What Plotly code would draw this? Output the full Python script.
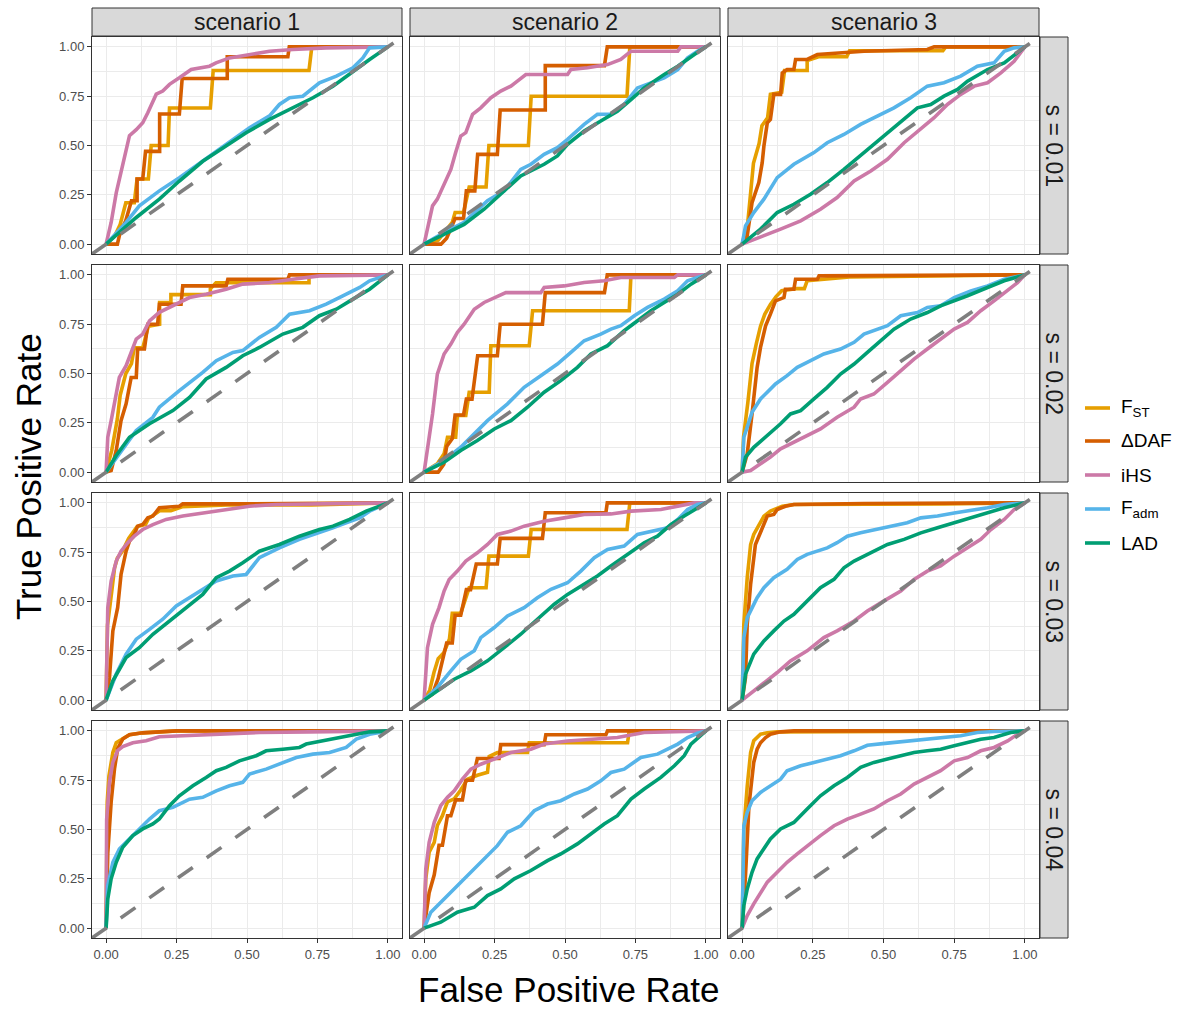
import plotly.graph_objects as go

# ---------------- data ----------------
scenarios = ["scenario 1", "scenario 2", "scenario 3"]
s_values = ["s = 0.01", "s = 0.02", "s = 0.03", "s = 0.04"]
methods = ["FST", "DAF", "iHS", "Fadm", "LAD"]
method_labels = ["F<sub>ST</sub>", "ΔDAF", "iHS", "F<sub>adm</sub>", "LAD"]
tick_vals = [0, 0.25, 0.5, 0.75, 1.0]
tick_text = ["0.00", "0.25", "0.50", "0.75", "1.00"]

# s = 0.01, scenario 1
s01_sc1_fst_x = [0, 0.03, 0.05, 0.07, 0.1, 0.11, 0.15, 0.16, 0.22, 0.225, 0.37, 0.38, 0.72, 0.73, 1]
s01_sc1_fst_y = [0, 0.04, 0.1, 0.21, 0.21, 0.33, 0.33, 0.5, 0.5, 0.69, 0.69, 0.88, 0.88, 1, 1]
s01_sc1_daf_x = [0, 0.04, 0.05, 0.07, 0.09, 0.11, 0.11, 0.13, 0.14, 0.19, 0.19, 0.26, 0.27, 0.43, 0.43, 0.645, 0.65, 1]
s01_sc1_daf_y = [0, 0, 0.06, 0.12, 0.22, 0.22, 0.33, 0.33, 0.47, 0.47, 0.66, 0.66, 0.84, 0.84, 0.95, 0.95, 1, 1]
s01_sc1_ihs_x = [0, 0.018, 0.036, 0.059, 0.083, 0.107, 0.13, 0.148, 0.178, 0.201, 0.225, 0.26, 0.302, 0.367, 0.39, 0.438, 0.509, 0.58, 0.663, 0.781, 1]
s01_sc1_ihs_y = [0, 0.11, 0.26, 0.41, 0.55, 0.58, 0.615, 0.666, 0.76, 0.776, 0.81, 0.843, 0.885, 0.902, 0.919, 0.944, 0.961, 0.978, 0.987, 0.995, 1]
s01_sc1_fadm_x = [0, 0.071, 0.118, 0.189, 0.26, 0.343, 0.426, 0.509, 0.58, 0.615, 0.651, 0.698, 0.757, 0.817, 0.876, 0.911, 0.935, 1]
s01_sc1_fadm_y = [0, 0.11, 0.194, 0.27, 0.337, 0.42, 0.506, 0.59, 0.65, 0.708, 0.742, 0.75, 0.818, 0.852, 0.894, 0.944, 0.995, 1]
s01_sc1_lad_x = [0, 0.047, 0.107, 0.189, 0.26, 0.343, 0.426, 0.497, 0.58, 0.663, 0.734, 0.805, 0.876, 0.935, 1]
s01_sc1_lad_y = [0, 0.059, 0.135, 0.228, 0.32, 0.42, 0.497, 0.565, 0.632, 0.691, 0.742, 0.8, 0.877, 0.936, 1]

# s = 0.01, scenario 2
s01_sc2_fst_x = [0, 0.05, 0.1, 0.11, 0.14, 0.16, 0.22, 0.23, 0.37, 0.38, 0.72, 0.73, 1]
s01_sc2_fst_y = [0, 0.02, 0.11, 0.16, 0.16, 0.29, 0.29, 0.5, 0.5, 0.75, 0.75, 1, 1]
s01_sc2_daf_x = [0, 0.06, 0.08, 0.11, 0.14, 0.15, 0.18, 0.19, 0.26, 0.27, 0.43, 0.43, 0.64, 0.65, 1]
s01_sc2_daf_y = [0, 0, 0.03, 0.13, 0.13, 0.27, 0.27, 0.455, 0.455, 0.68, 0.68, 0.905, 0.905, 1, 1]
s01_sc2_ihs_x = [0, 0.018, 0.03, 0.047, 0.071, 0.095, 0.112, 0.13, 0.148, 0.172, 0.201, 0.237, 0.272, 0.308, 0.331, 0.361, 0.509, 0.521, 0.58, 0.651, 0.698, 0.734, 0.9, 0.911, 1]
s01_sc2_ihs_y = [0, 0.11, 0.194, 0.228, 0.303, 0.379, 0.464, 0.548, 0.565, 0.658, 0.691, 0.742, 0.776, 0.801, 0.826, 0.86, 0.86, 0.885, 0.894, 0.91, 0.936, 0.978, 0.978, 1, 1]
s01_sc2_fadm_x = [0, 0.071, 0.142, 0.225, 0.284, 0.343, 0.379, 0.426, 0.473, 0.509, 0.568, 0.615, 0.663, 0.71, 0.757, 0.805, 0.852, 0.9, 0.935, 0.97, 1]
s01_sc2_fadm_y = [0, 0.059, 0.11, 0.22, 0.27, 0.379, 0.405, 0.455, 0.489, 0.531, 0.607, 0.658, 0.66, 0.708, 0.792, 0.818, 0.843, 0.885, 0.944, 0.978, 1]
s01_sc2_lad_x = [0, 0.071, 0.142, 0.213, 0.284, 0.343, 0.426, 0.473, 0.509, 0.568, 0.627, 0.686, 0.734, 0.781, 0.852, 0.9, 0.959, 1]
s01_sc2_lad_y = [0, 0.05, 0.1, 0.177, 0.27, 0.346, 0.405, 0.447, 0.506, 0.573, 0.624, 0.674, 0.733, 0.792, 0.86, 0.902, 0.961, 1]

# s = 0.01, scenario 3
s01_sc3_fst_x = [0, 0.02, 0.03, 0.04, 0.06, 0.07, 0.09, 0.1, 0.14, 0.15, 0.23, 0.23, 0.27, 0.37, 0.38, 0.71, 0.72, 1]
s01_sc3_fst_y = [0, 0.11, 0.26, 0.41, 0.51, 0.6, 0.64, 0.76, 0.77, 0.88, 0.88, 0.93, 0.95, 0.95, 0.98, 0.98, 1, 1]
s01_sc3_daf_x = [0, 0.018, 0.035, 0.059, 0.071, 0.077, 0.089, 0.1, 0.112, 0.136, 0.142, 0.159, 0.183, 0.189, 0.23, 0.266, 0.431, 0.655, 0.679, 1]
s01_sc3_daf_y = [0, 0.042, 0.21, 0.312, 0.413, 0.497, 0.615, 0.632, 0.759, 0.759, 0.868, 0.885, 0.885, 0.936, 0.936, 0.961, 0.978, 0.987, 1, 1]
s01_sc3_ihs_x = [0, 0.065, 0.136, 0.207, 0.277, 0.336, 0.396, 0.455, 0.514, 0.573, 0.632, 0.679, 0.726, 0.773, 0.821, 0.868, 0.915, 0.962, 1]
s01_sc3_ihs_y = [0, 0.034, 0.076, 0.118, 0.177, 0.236, 0.32, 0.371, 0.43, 0.514, 0.582, 0.641, 0.708, 0.759, 0.801, 0.818, 0.868, 0.927, 1]
s01_sc3_fadm_x = [0, 0.012, 0.041, 0.077, 0.124, 0.183, 0.254, 0.301, 0.36, 0.419, 0.478, 0.537, 0.596, 0.655, 0.714, 0.773, 0.832, 0.891, 0.927, 0.962, 1]
s01_sc3_fadm_y = [0, 0.093, 0.16, 0.228, 0.337, 0.405, 0.464, 0.514, 0.556, 0.607, 0.649, 0.691, 0.742, 0.801, 0.818, 0.852, 0.902, 0.919, 0.978, 0.995, 1]
s01_sc3_lad_x = [0, 0.065, 0.124, 0.183, 0.242, 0.301, 0.36, 0.396, 0.443, 0.502, 0.561, 0.62, 0.667, 0.714, 0.762, 0.797, 0.868, 0.927, 1]
s01_sc3_lad_y = [0, 0.076, 0.16, 0.202, 0.253, 0.312, 0.379, 0.422, 0.481, 0.548, 0.616, 0.691, 0.708, 0.75, 0.784, 0.826, 0.885, 0.919, 1]

# s = 0.02, scenario 1
s02_sc1_fst_x = [0, 0.02, 0.04, 0.05, 0.07, 0.09, 0.1, 0.13, 0.15, 0.19, 0.19, 0.23, 0.23, 0.37, 0.37, 0.39, 0.72, 0.72, 1]
s02_sc1_fst_y = [0, 0.11, 0.27, 0.39, 0.5, 0.55, 0.63, 0.63, 0.74, 0.75, 0.86, 0.86, 0.9, 0.9, 0.93, 0.96, 0.96, 1, 1]
s02_sc1_daf_x = [0, 0.018, 0.036, 0.053, 0.071, 0.089, 0.107, 0.112, 0.136, 0.148, 0.183, 0.189, 0.266, 0.272, 0.426, 0.432, 0.645, 0.651, 1]
s02_sc1_daf_y = [0, 0.008, 0.11, 0.261, 0.346, 0.48, 0.48, 0.624, 0.624, 0.75, 0.75, 0.851, 0.851, 0.944, 0.944, 0.978, 0.978, 1, 1]
s02_sc1_ihs_x = [0, 0.006, 0.018, 0.036, 0.047, 0.071, 0.107, 0.13, 0.154, 0.189, 0.237, 0.296, 0.355, 0.426, 0.485, 0.58, 0.663, 0.757, 1]
s02_sc1_ihs_y = [0, 0.177, 0.261, 0.396, 0.48, 0.54, 0.674, 0.7, 0.767, 0.81, 0.843, 0.885, 0.902, 0.927, 0.953, 0.961, 0.978, 0.995, 1]
s02_sc1_fadm_x = [0, 0.047, 0.107, 0.166, 0.189, 0.26, 0.308, 0.343, 0.391, 0.45, 0.485, 0.544, 0.604, 0.651, 0.722, 0.781, 0.84, 0.9, 0.935, 0.97, 1]
s02_sc1_fadm_y = [0, 0.093, 0.211, 0.278, 0.329, 0.413, 0.464, 0.506, 0.565, 0.607, 0.616, 0.683, 0.734, 0.801, 0.818, 0.852, 0.894, 0.936, 0.97, 0.987, 1]
s02_sc1_lad_x = [0, 0.036, 0.083, 0.154, 0.237, 0.296, 0.355, 0.426, 0.485, 0.544, 0.627, 0.698, 0.757, 0.817, 0.876, 0.935, 1]
s02_sc1_lad_y = [0, 0.084, 0.177, 0.245, 0.312, 0.379, 0.472, 0.531, 0.59, 0.632, 0.7, 0.734, 0.793, 0.826, 0.877, 0.927, 1]

# s = 0.02, scenario 2
s02_sc2_fst_x = [0, 0.047, 0.071, 0.083, 0.112, 0.118, 0.148, 0.16, 0.231, 0.237, 0.373, 0.385, 0.728, 0.734, 1]
s02_sc2_fst_y = [0, 0.042, 0.093, 0.177, 0.177, 0.287, 0.287, 0.405, 0.405, 0.641, 0.641, 0.818, 0.818, 1, 1]
s02_sc2_daf_x = [0, 0.05, 0.07, 0.08, 0.1, 0.11, 0.14, 0.15, 0.17, 0.19, 0.26, 0.27, 0.42, 0.43, 0.64, 0.65, 1]
s02_sc2_daf_y = [0, 0, 0.04, 0.13, 0.17, 0.29, 0.29, 0.37, 0.37, 0.59, 0.59, 0.75, 0.75, 0.91, 0.91, 1, 1]
s02_sc2_ihs_x = [0, 0.018, 0.03, 0.047, 0.071, 0.095, 0.118, 0.142, 0.178, 0.213, 0.249, 0.29, 0.414, 0.426, 0.497, 0.568, 0.639, 0.698, 0.888, 0.9, 1]
s02_sc2_ihs_y = [0, 0.177, 0.295, 0.497, 0.599, 0.649, 0.708, 0.75, 0.826, 0.86, 0.885, 0.91, 0.91, 0.936, 0.944, 0.961, 0.97, 0.987, 0.987, 1, 1]
s02_sc2_fadm_x = [0, 0.071, 0.13, 0.178, 0.225, 0.296, 0.355, 0.414, 0.473, 0.521, 0.568, 0.627, 0.663, 0.698, 0.746, 0.793, 0.852, 0.9, 0.935, 0.97, 1]
s02_sc2_fadm_y = [0, 0.059, 0.126, 0.194, 0.261, 0.346, 0.43, 0.489, 0.548, 0.607, 0.666, 0.7, 0.725, 0.742, 0.793, 0.835, 0.877, 0.919, 0.97, 0.987, 1]
s02_sc2_lad_x = [0, 0.071, 0.13, 0.189, 0.249, 0.308, 0.367, 0.426, 0.485, 0.544, 0.592, 0.651, 0.71, 0.757, 0.805, 0.852, 0.9, 0.947, 1]
s02_sc2_lad_y = [0, 0.05, 0.11, 0.16, 0.219, 0.261, 0.329, 0.405, 0.464, 0.531, 0.599, 0.641, 0.717, 0.767, 0.818, 0.86, 0.902, 0.953, 1]

# s = 0.02, scenario 3
s02_sc3_fst_x = [0, 0.005, 0.02, 0.035, 0.05, 0.065, 0.08, 0.1, 0.12, 0.14, 0.19, 0.22, 0.23, 0.3, 0.38, 1]
s02_sc3_fst_y = [0, 0.18, 0.35, 0.55, 0.65, 0.74, 0.8, 0.85, 0.89, 0.92, 0.93, 0.93, 0.97, 0.98, 0.99, 1]
s02_sc3_daf_x = [0, 0.018, 0.035, 0.053, 0.065, 0.083, 0.1, 0.118, 0.148, 0.153, 0.183, 0.189, 0.266, 0.272, 1]
s02_sc3_daf_y = [0, 0.093, 0.295, 0.531, 0.632, 0.742, 0.801, 0.868, 0.885, 0.927, 0.927, 0.978, 0.978, 0.995, 1]
s02_sc3_ihs_x = [0, 0.03, 0.065, 0.1, 0.136, 0.183, 0.218, 0.277, 0.336, 0.396, 0.419, 0.466, 0.514, 0.561, 0.608, 0.655, 0.702, 0.75, 0.797, 0.844, 0.891, 0.939, 0.974, 1]
s02_sc3_ihs_y = [0, 0.008, 0.042, 0.076, 0.118, 0.152, 0.177, 0.219, 0.278, 0.329, 0.371, 0.396, 0.455, 0.514, 0.573, 0.624, 0.674, 0.725, 0.759, 0.818, 0.868, 0.919, 0.961, 1]
s02_sc3_fadm_x = [0, 0.006, 0.018, 0.035, 0.065, 0.089, 0.118, 0.159, 0.195, 0.23, 0.289, 0.348, 0.396, 0.431, 0.478, 0.514, 0.561, 0.62, 0.655, 0.702, 0.75, 0.809, 0.868, 0.927, 1]
s02_sc3_fadm_y = [0, 0.177, 0.228, 0.304, 0.371, 0.405, 0.447, 0.489, 0.531, 0.556, 0.599, 0.624, 0.658, 0.7, 0.725, 0.742, 0.793, 0.809, 0.835, 0.843, 0.885, 0.919, 0.944, 0.978, 1]
s02_sc3_lad_x = [0, 0.012, 0.041, 0.089, 0.136, 0.171, 0.207, 0.254, 0.301, 0.348, 0.396, 0.443, 0.49, 0.537, 0.596, 0.655, 0.702, 0.75, 0.797, 0.868, 0.927, 1]
s02_sc3_lad_y = [0, 0.076, 0.126, 0.185, 0.245, 0.295, 0.312, 0.371, 0.43, 0.497, 0.548, 0.607, 0.666, 0.725, 0.776, 0.809, 0.843, 0.868, 0.894, 0.936, 0.97, 1]

# s = 0.03, scenario 1
s03_sc1_fst_x = [0, 0.005, 0.02, 0.03, 0.04, 0.06, 0.07, 0.08, 0.11, 0.14, 0.15, 0.19, 0.23, 0.27, 0.43, 0.73, 1]
s03_sc1_fst_y = [0, 0.38, 0.55, 0.67, 0.72, 0.76, 0.79, 0.82, 0.88, 0.89, 0.92, 0.96, 0.96, 0.98, 0.99, 0.99, 1]
s03_sc1_daf_x = [0, 0.012, 0.024, 0.041, 0.053, 0.071, 0.083, 0.1, 0.112, 0.13, 0.148, 0.166, 0.189, 0.26, 0.272, 0.438, 1]
s03_sc1_daf_y = [0, 0.115, 0.351, 0.469, 0.637, 0.755, 0.806, 0.84, 0.882, 0.89, 0.924, 0.933, 0.975, 0.983, 0.995, 0.995, 1]
s03_sc1_ihs_x = [0, 0.006, 0.018, 0.036, 0.053, 0.077, 0.1, 0.13, 0.166, 0.213, 0.272, 0.343, 0.426, 0.509, 0.604, 0.722, 1]
s03_sc1_ihs_y = [0, 0.469, 0.604, 0.705, 0.755, 0.798, 0.831, 0.865, 0.89, 0.916, 0.933, 0.949, 0.966, 0.983, 0.992, 0.995, 1]
s03_sc1_fadm_x = [0, 0.036, 0.071, 0.107, 0.154, 0.201, 0.249, 0.308, 0.355, 0.391, 0.45, 0.497, 0.544, 0.615, 0.686, 0.757, 0.805, 0.852, 0.9, 0.935, 0.97, 1]
s03_sc1_fadm_y = [0, 0.132, 0.233, 0.309, 0.359, 0.41, 0.477, 0.528, 0.57, 0.604, 0.629, 0.637, 0.722, 0.772, 0.815, 0.848, 0.874, 0.899, 0.924, 0.958, 0.983, 1]
s03_sc1_lad_x = [0, 0.024, 0.071, 0.118, 0.166, 0.225, 0.284, 0.343, 0.391, 0.438, 0.485, 0.544, 0.615, 0.686, 0.757, 0.805, 0.864, 0.923, 0.97, 1]
s03_sc1_lad_y = [0, 0.098, 0.216, 0.266, 0.334, 0.401, 0.469, 0.536, 0.621, 0.654, 0.696, 0.755, 0.789, 0.831, 0.865, 0.882, 0.916, 0.958, 0.983, 1]

# s = 0.03, scenario 2
s03_sc2_fst_x = [0, 0.02, 0.035, 0.05, 0.07, 0.09, 0.1, 0.13, 0.16, 0.22, 0.23, 0.37, 0.38, 0.72, 0.73, 1]
s03_sc2_fst_y = [0, 0.05, 0.14, 0.21, 0.24, 0.31, 0.44, 0.44, 0.57, 0.57, 0.73, 0.73, 0.865, 0.865, 1, 1]
s03_sc2_daf_x = [0, 0.03, 0.05, 0.07, 0.08, 0.1, 0.11, 0.13, 0.15, 0.165, 0.185, 0.26, 0.27, 0.42, 0.43, 0.645, 0.65, 1]
s03_sc2_daf_y = [0, 0.03, 0.11, 0.22, 0.29, 0.29, 0.43, 0.43, 0.56, 0.56, 0.69, 0.69, 0.82, 0.82, 0.95, 0.95, 1, 1]
s03_sc2_ihs_x = [0, 0.012, 0.03, 0.053, 0.071, 0.089, 0.118, 0.148, 0.189, 0.225, 0.26, 0.308, 0.355, 0.426, 0.497, 0.568, 0.663, 0.734, 0.84, 0.9, 0.959, 1]
s03_sc2_ihs_y = [0, 0.266, 0.384, 0.469, 0.553, 0.612, 0.654, 0.705, 0.747, 0.789, 0.84, 0.857, 0.882, 0.907, 0.924, 0.941, 0.944, 0.958, 0.966, 0.983, 1, 1]
s03_sc2_fadm_x = [0, 0.047, 0.095, 0.13, 0.178, 0.201, 0.249, 0.296, 0.355, 0.402, 0.45, 0.509, 0.556, 0.604, 0.651, 0.71, 0.757, 0.817, 0.864, 0.9, 0.935, 0.97, 1]
s03_sc2_fadm_y = [0, 0.064, 0.148, 0.207, 0.25, 0.317, 0.368, 0.427, 0.469, 0.519, 0.562, 0.595, 0.654, 0.722, 0.764, 0.781, 0.84, 0.857, 0.874, 0.916, 0.966, 0.992, 1]
s03_sc2_lad_x = [0, 0.047, 0.107, 0.166, 0.225, 0.284, 0.343, 0.402, 0.462, 0.509, 0.568, 0.615, 0.663, 0.722, 0.781, 0.828, 0.876, 0.923, 0.97, 1]
s03_sc2_lad_y = [0, 0.047, 0.106, 0.148, 0.199, 0.266, 0.334, 0.41, 0.486, 0.536, 0.587, 0.629, 0.68, 0.739, 0.798, 0.831, 0.89, 0.933, 0.975, 1]

# s = 0.03, scenario 3
s03_sc3_fst_x = [0, 0.006, 0.018, 0.03, 0.041, 0.059, 0.077, 0.1, 0.142, 0.183, 0.23, 0.714, 1]
s03_sc3_fst_y = [0, 0.385, 0.621, 0.789, 0.84, 0.89, 0.933, 0.958, 0.983, 0.992, 0.992, 0.995, 1]
s03_sc3_daf_x = [0, 0.012, 0.018, 0.03, 0.047, 0.065, 0.077, 0.089, 0.112, 0.124, 0.153, 0.183, 0.431, 1]
s03_sc3_daf_y = [0, 0.115, 0.385, 0.587, 0.789, 0.848, 0.89, 0.933, 0.941, 0.966, 0.983, 0.992, 0.997, 1]
s03_sc3_ihs_x = [0, 0.041, 0.089, 0.124, 0.171, 0.23, 0.289, 0.336, 0.396, 0.443, 0.502, 0.561, 0.608, 0.655, 0.702, 0.75, 0.797, 0.844, 0.88, 0.927, 0.962, 1]
s03_sc3_ihs_y = [0, 0.047, 0.098, 0.14, 0.199, 0.25, 0.317, 0.351, 0.401, 0.452, 0.503, 0.553, 0.612, 0.654, 0.68, 0.73, 0.772, 0.815, 0.865, 0.916, 0.966, 1]
s03_sc3_fadm_x = [0, 0.006, 0.018, 0.035, 0.053, 0.077, 0.112, 0.159, 0.195, 0.23, 0.266, 0.301, 0.336, 0.372, 0.419, 0.478, 0.537, 0.584, 0.632, 0.691, 0.75, 0.797, 0.868, 0.927, 1]
s03_sc3_fadm_y = [0, 0.317, 0.418, 0.469, 0.519, 0.57, 0.621, 0.663, 0.713, 0.739, 0.755, 0.772, 0.798, 0.831, 0.848, 0.865, 0.882, 0.899, 0.924, 0.933, 0.949, 0.958, 0.975, 0.992, 1]
s03_sc3_lad_x = [0, 0.012, 0.041, 0.077, 0.112, 0.148, 0.183, 0.23, 0.277, 0.325, 0.36, 0.396, 0.455, 0.514, 0.573, 0.632, 0.691, 0.75, 0.809, 0.868, 0.927, 1]
s03_sc3_lad_y = [0, 0.132, 0.233, 0.3, 0.351, 0.401, 0.435, 0.503, 0.57, 0.612, 0.671, 0.705, 0.747, 0.789, 0.815, 0.848, 0.874, 0.899, 0.924, 0.949, 0.975, 1]

# s = 0.04, scenario 1
s04_sc1_fst_x = [0, 0.004, 0.01, 0.024, 0.036, 0.06, 0.083, 0.13, 0.25, 1]
s04_sc1_fst_y = [0, 0.64, 0.77, 0.89, 0.94, 0.96, 0.98, 0.99, 1, 1]
s04_sc1_daf_x = [0, 0.006, 0.018, 0.03, 0.041, 0.06, 0.083, 0.13, 0.25, 1]
s04_sc1_daf_y = [0, 0.38, 0.64, 0.81, 0.91, 0.96, 0.98, 0.99, 1, 1]
s04_sc1_ihs_x = [0, 0.002, 0.012, 0.024, 0.041, 0.059, 0.095, 0.142, 0.189, 0.26, 0.367, 0.544, 0.722, 1]
s04_sc1_ihs_y = [0, 0.55, 0.74, 0.84, 0.9, 0.92, 0.94, 0.95, 0.97, 0.975, 0.983, 0.992, 0.995, 1]
s04_sc1_fadm_x = [0, 0.006, 0.024, 0.047, 0.071, 0.107, 0.154, 0.189, 0.237, 0.296, 0.343, 0.391, 0.438, 0.485, 0.509, 0.568, 0.627, 0.675, 0.734, 0.793, 0.852, 0.888, 0.935, 1]
s04_sc1_fadm_y = [0, 0.216, 0.334, 0.401, 0.435, 0.486, 0.553, 0.595, 0.612, 0.654, 0.663, 0.696, 0.722, 0.739, 0.781, 0.806, 0.84, 0.865, 0.882, 0.89, 0.916, 0.958, 0.983, 1]
s04_sc1_lad_x = [0, 0.006, 0.018, 0.036, 0.059, 0.095, 0.13, 0.166, 0.189, 0.225, 0.26, 0.308, 0.355, 0.391, 0.426, 0.473, 0.533, 0.568, 0.627, 0.686, 0.71, 0.769, 0.828, 0.888, 0.935, 1]
s04_sc1_lad_y = [0, 0.148, 0.25, 0.334, 0.41, 0.469, 0.503, 0.528, 0.553, 0.621, 0.671, 0.722, 0.764, 0.798, 0.815, 0.848, 0.874, 0.899, 0.907, 0.916, 0.933, 0.949, 0.966, 0.983, 0.995, 1]

# s = 0.04, scenario 2
s04_sc2_fst_x = [0, 0.006, 0.018, 0.036, 0.047, 0.065, 0.083, 0.107, 0.13, 0.154, 0.189, 0.225, 0.231, 0.26, 0.367, 0.373, 0.722, 0.728, 1]
s04_sc2_fst_y = [0, 0.25, 0.385, 0.435, 0.52, 0.57, 0.64, 0.655, 0.7, 0.755, 0.775, 0.79, 0.87, 0.89, 0.89, 0.94, 0.94, 1, 1]
s04_sc2_daf_x = [0, 0.018, 0.036, 0.053, 0.065, 0.083, 0.095, 0.112, 0.136, 0.148, 0.172, 0.189, 0.266, 0.272, 0.426, 0.432, 0.645, 0.651, 1]
s04_sc2_daf_y = [0, 0.18, 0.27, 0.42, 0.42, 0.57, 0.57, 0.65, 0.65, 0.75, 0.75, 0.86, 0.86, 0.93, 0.93, 0.98, 0.98, 1, 1]
s04_sc2_ihs_x = [0, 0.006, 0.018, 0.036, 0.059, 0.083, 0.107, 0.136, 0.166, 0.201, 0.249, 0.308, 0.379, 0.426, 0.509, 0.592, 0.686, 0.781, 0.9, 1]
s04_sc2_ihs_y = [0, 0.3, 0.435, 0.536, 0.621, 0.663, 0.696, 0.755, 0.806, 0.831, 0.857, 0.89, 0.907, 0.933, 0.949, 0.958, 0.966, 0.992, 0.997, 1]
s04_sc2_fadm_x = [0, 0.024, 0.071, 0.118, 0.166, 0.213, 0.26, 0.296, 0.343, 0.391, 0.438, 0.485, 0.533, 0.58, 0.627, 0.663, 0.71, 0.769, 0.828, 0.864, 0.9, 0.935, 0.97, 1]
s04_sc2_fadm_y = [0, 0.081, 0.148, 0.216, 0.283, 0.351, 0.418, 0.486, 0.519, 0.595, 0.629, 0.646, 0.68, 0.705, 0.747, 0.789, 0.806, 0.865, 0.882, 0.907, 0.933, 0.966, 0.988, 1]
s04_sc2_lad_x = [0, 0.059, 0.118, 0.178, 0.225, 0.272, 0.32, 0.379, 0.438, 0.485, 0.544, 0.592, 0.639, 0.686, 0.734, 0.781, 0.84, 0.888, 0.923, 0.947, 0.982, 1]
s04_sc2_lad_y = [0, 0.03, 0.081, 0.106, 0.165, 0.199, 0.25, 0.292, 0.342, 0.376, 0.427, 0.477, 0.528, 0.57, 0.654, 0.705, 0.764, 0.823, 0.874, 0.933, 0.975, 1]

# s = 0.04, scenario 3
s04_sc3_fst_x = [0, 0.006, 0.018, 0.03, 0.041, 0.065, 0.089, 0.124, 1]
s04_sc3_fst_y = [0, 0.5, 0.72, 0.89, 0.95, 0.983, 0.99, 0.995, 1]
s04_sc3_daf_x = [0, 0.012, 0.024, 0.041, 0.053, 0.065, 0.083, 0.1, 0.136, 0.183, 1]
s04_sc3_daf_y = [0, 0.27, 0.62, 0.84, 0.907, 0.94, 0.966, 0.983, 0.995, 1, 1]
s04_sc3_ihs_x = [0, 0.018, 0.041, 0.065, 0.089, 0.124, 0.159, 0.195, 0.23, 0.277, 0.325, 0.372, 0.419, 0.466, 0.514, 0.561, 0.608, 0.655, 0.702, 0.75, 0.797, 0.844, 0.891, 0.939, 0.974, 1]
s04_sc3_ihs_y = [0, 0.064, 0.123, 0.182, 0.233, 0.283, 0.334, 0.376, 0.418, 0.469, 0.519, 0.553, 0.578, 0.604, 0.646, 0.68, 0.73, 0.764, 0.798, 0.848, 0.865, 0.899, 0.916, 0.949, 0.983, 1]
s04_sc3_fadm_x = [0, 0.006, 0.018, 0.035, 0.065, 0.1, 0.136, 0.159, 0.207, 0.254, 0.301, 0.348, 0.396, 0.443, 0.514, 0.584, 0.655, 0.714, 0.773, 0.832, 0.891, 1]
s04_sc3_fadm_y = [0, 0.519, 0.587, 0.646, 0.688, 0.722, 0.755, 0.798, 0.823, 0.84, 0.857, 0.874, 0.899, 0.927, 0.938, 0.949, 0.961, 0.966, 0.975, 0.992, 0.997, 1]
s04_sc3_lad_x = [0, 0.006, 0.018, 0.035, 0.053, 0.077, 0.1, 0.136, 0.183, 0.23, 0.277, 0.325, 0.372, 0.419, 0.466, 0.514, 0.561, 0.608, 0.655, 0.702, 0.75, 0.797, 0.844, 0.891, 0.95, 1]
s04_sc3_lad_y = [0, 0.115, 0.199, 0.283, 0.351, 0.401, 0.452, 0.503, 0.536, 0.604, 0.671, 0.722, 0.764, 0.815, 0.84, 0.857, 0.874, 0.89, 0.899, 0.907, 0.924, 0.941, 0.958, 0.966, 0.992, 1]

# ---------------- assemble ----------------
g = globals()
prefixes = ["s01", "s02", "s03", "s04"]
panel_data = {}
for r, sp in enumerate(prefixes):
    for c in range(3):
        panel_data[(r, c)] = [
            (g[f"{sp}_sc{c+1}_{m.lower()}_x"], g[f"{sp}_sc{c+1}_{m.lower()}_y"])
            for m in methods
        ]

colors = ["#E69F00", "#D55E00", "#CC79A7", "#56B4E9", "#009E73"]
FONT = "Liberation Sans, Arial, Helvetica, sans-serif"
W, H = 1180, 1010
col_left = [92, 410, 728]
col_w = [310, 310, 311]
row_top = [37, 265, 493, 721]
row_h = 217
strip_top, strip_bot = 8, 36
rstrip_l, rstrip_r = 1040, 1068
STRIP_FILL = "#D9D9D9"
BORDER = "#333333"
LINE_W = 3.6

fig = go.Figure()
layout_axes = {}
for r in range(4):
    for c in range(3):
        idx = r * 3 + c + 1
        sfx = "" if idx == 1 else str(idx)
        xl, xr = col_left[c], col_left[c] + col_w[c]
        yt, yb = row_top[r], row_top[r] + row_h
        for (xs, ys), col in zip(panel_data[(r, c)], colors):
            fig.add_trace(go.Scatter(x=xs, y=ys, mode="lines",
                                     line=dict(color=col, width=LINE_W),
                                     xaxis="x" + sfx, yaxis="y" + sfx,
                                     showlegend=False, hoverinfo="skip"))
        fig.add_trace(go.Scatter(x=[-0.05, 1.05], y=[-0.05, 1.05], mode="lines",
                                 line=dict(color="#7F7F7F", width=LINE_W, dash="18px,17px"),
                                 xaxis="x" + sfx, yaxis="y" + sfx,
                                 showlegend=False, hoverinfo="skip"))
        common = dict(range=[-0.05, 1.05], showline=True, mirror=True,
                      linecolor=BORDER, linewidth=1, zeroline=False,
                      showgrid=True, gridcolor="#EBEBEB", gridwidth=1.1,
                      tickvals=tick_vals, ticktext=tick_text,
                      tickfont=dict(family=FONT, size=13, color="#4D4D4D"),
                      tickcolor=BORDER, tickwidth=1, ticklen=4,
                      minor=dict(tickvals=[0.125, 0.375, 0.625, 0.875],
                                 showgrid=True, gridcolor="#EBEBEB", gridwidth=0.6,
                                 ticks=""),
                      fixedrange=True)
        xa = dict(common, domain=[xl / W, xr / W], anchor="y" + sfx)
        ya = dict(common, domain=[1 - yb / H, 1 - yt / H], anchor="x" + sfx)
        if r == 3:
            xa.update(ticks="outside", showticklabels=True)
        else:
            xa.update(ticks="", showticklabels=False)
        if c == 0:
            ya.update(ticks="outside", showticklabels=True)
        else:
            ya.update(ticks="", showticklabels=False)
        layout_axes["xaxis" + sfx] = xa
        layout_axes["yaxis" + sfx] = ya

shapes = []
annotations = []
# top strips
for c in range(3):
    xl, xr = col_left[c], col_left[c] + col_w[c]
    shapes.append(dict(type="rect", xref="paper", yref="paper",
                       x0=xl / W, x1=xr / W, y0=1 - strip_bot / H, y1=1 - strip_top / H,
                       fillcolor=STRIP_FILL, line=dict(color=BORDER, width=1), layer="below"))
    annotations.append(dict(xref="paper", yref="paper", x=(xl + xr) / 2 / W,
                            y=1 - (strip_top + strip_bot) / 2 / H, text=scenarios[c],
                            showarrow=False, xanchor="center", yanchor="middle",
                            font=dict(family=FONT, size=23, color="#1A1A1A")))
# right strips
for r in range(4):
    yt, yb = row_top[r], row_top[r] + row_h
    shapes.append(dict(type="rect", xref="paper", yref="paper",
                       x0=rstrip_l / W, x1=rstrip_r / W, y0=1 - yb / H, y1=1 - yt / H,
                       fillcolor=STRIP_FILL, line=dict(color=BORDER, width=1), layer="below"))
    annotations.append(dict(xref="paper", yref="paper", x=(rstrip_l + rstrip_r) / 2 / W,
                            y=1 - (yt + yb) / 2 / H, text=s_values[r], textangle=90,
                            showarrow=False, xanchor="center", yanchor="middle",
                            font=dict(family=FONT, size=23, color="#1A1A1A")))

# axis titles
annotations.append(dict(xref="paper", yref="paper", x=569 / W, y=1 - 989 / H,
                        text="False Positive Rate", showarrow=False,
                        xanchor="center", yanchor="middle",
                        font=dict(family=FONT, size=35, color="black")))
annotations.append(dict(xref="paper", yref="paper", x=28 / W, y=1 - 477 / H,
                        text="True Positive Rate", showarrow=False, textangle=-90,
                        xanchor="center", yanchor="middle",
                        font=dict(family=FONT, size=35, color="black")))

# legend (manual)
leg_y = [408, 441, 475, 509, 543]
for lab, col, ly in zip(method_labels, colors, leg_y):
    shapes.append(dict(type="line", xref="paper", yref="paper",
                       x0=1085 / W, x1=1110 / W, y0=1 - ly / H, y1=1 - ly / H,
                       line=dict(color=col, width=LINE_W)))
    annotations.append(dict(xref="paper", yref="paper", x=1119 / W, y=1 - ly / H,
                            text=lab, showarrow=False, xanchor="left", yanchor="middle",
                            font=dict(family=FONT, size=19, color="black")))

fig.update_layout(width=W, height=H, margin=dict(l=0, r=0, t=0, b=0),
                  paper_bgcolor="white", plot_bgcolor="white",
                  shapes=shapes, annotations=annotations, showlegend=False,
                  **layout_axes)
fig.write_html("out.html")
